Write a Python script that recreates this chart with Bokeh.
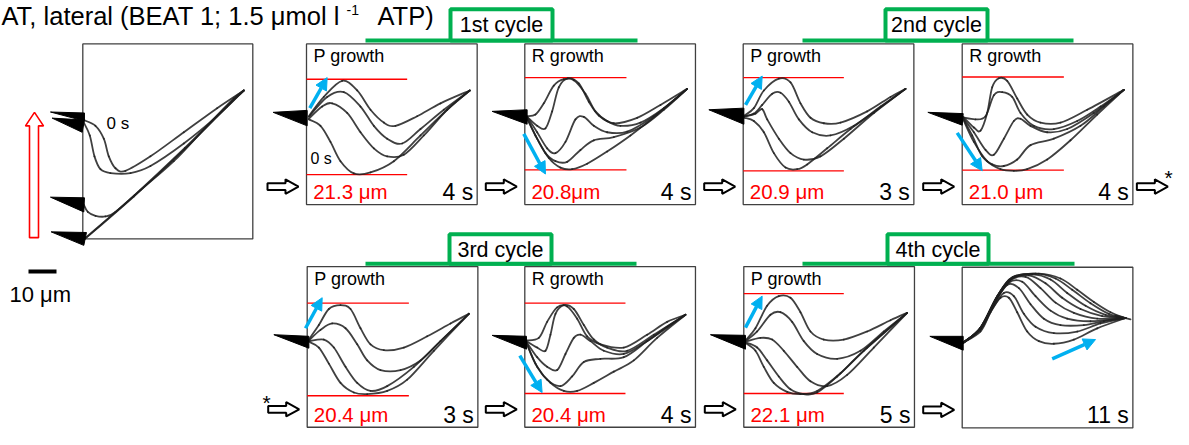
from bokeh.plotting import figure
from bokeh.models import Range1d, Arrow, NormalHead
from bokeh.core.properties import value
from bokeh.embed import file_html
from bokeh.resources import INLINE

# ---------------- data (waveforms in panel-local units, 3 units = 1 px) ----------------
TITLE_MAIN = "AT, lateral (BEAT 1; 1.5 μmol l"
TITLE_SUP = "-1"
TITLE_END = "ATP)"
CYCLE_LABELS = ["1st cycle", "2nd cycle", "3rd cycle", "4th cycle"]
PANEL_TITLES = ["P growth", "R growth", "P growth", "R growth", "P growth", "R growth", "P growth", ""]
AMPLITUDES = ["21.3 μm", "20.8μm", "20.9 μm", "21.0 μm", "20.4 μm", "20.4 μm", "22.1 μm", ""]
DURATIONS = ["4 s", "4 s", "3 s", "4 s", "3 s", "4 s", "5 s", "11 s"]
SCALE_LABEL = "10 μm"
START_LABEL = "0 s"

PANEL0_CURVES = [
    [(3, 237), (38, 255), (63, 295), (78, 350), (98, 387), (128, 395), (203, 350), (303, 275), (403, 200), (483, 145)],
    [(3, 245), (21, 285), (35, 350), (53, 390), (83, 402), (143, 402), (203, 380), (303, 310), (403, 225), (483, 145)],
    [(3, 500), (15, 523), (38, 535), (68, 537), (98, 523), (173, 455), (273, 365), (373, 255), (453, 170), (483, 145)],
    [(3, 610), (153, 475), (303, 330), (433, 195), (483, 145)],
    [(6, 606), (156, 470), (306, 324), (436, 190), (483, 145)],
]
PANEL0_HEADS = [
    [(-97, 212), (5, 215), (5, 240)],
    [(-92, 231), (5, 237), (-2, 275)],
    [(-97, 477), (5, 479), (3, 523)],
    [(-95, 585), (11, 587), (3, 627)],
]

P1_CURVES = [
    [(7, 225), (52, 165), (107, 115), (152, 145), (192, 205), (232, 245), (267, 255), (332, 225), (402, 185), (490, 145)],
    [(7, 227), (62, 165), (112, 150), (162, 195), (202, 255), (242, 295), (287, 310), (342, 265), (412, 205), (490, 145)],
    [(7, 233), (47, 195), (77, 185), (122, 215), (162, 275), (202, 325), (242, 350), (292, 345), (352, 285), (422, 205), (490, 145)],
    [(7, 235), (42, 255), (72, 305), (102, 365), (142, 403), (192, 400), (262, 365), (342, 285), (422, 205), (490, 145)],
]
R1_CURVES = [
    [(7, 227), (37, 255), (62, 263), (82, 210), (102, 135), (129, 107), (162, 123), (192, 180), (222, 223), (267, 247), (337, 230), (407, 190), (487, 140)],
    [(7, 225), (32, 220), (57, 185), (87, 130), (117, 110), (147, 113), (182, 155), (212, 210), (247, 240), (287, 255), (347, 245), (417, 200), (487, 140)],
    [(7, 227), (37, 275), (67, 325), (92, 340), (122, 305), (152, 235), (177, 227), (207, 255), (247, 275), (307, 273), (387, 225), (487, 140)],
    [(7, 230), (32, 285), (62, 340), (92, 365), (127, 367), (167, 330), (207, 300), (267, 290), (347, 260), (417, 205), (487, 140)],
    [(7, 233), (37, 295), (72, 355), (107, 385), (142, 390), (187, 373), (247, 335), (317, 285), (397, 220), (487, 140)],
]
P2_CURVES = [
    [(4, 223), (32, 200), (62, 145), (107, 108), (142, 120), (172, 185), (202, 230), (242, 247), (292, 245), (372, 210), (442, 165), (487, 140)],
    [(4, 225), (32, 217), (57, 190), (87, 155), (112, 152), (137, 180), (167, 235), (207, 275), (262, 285), (332, 255), (412, 195), (487, 140)],
    [(4, 227), (37, 217), (57, 203), (72, 235), (107, 295), (142, 340), (182, 360), (232, 350), (302, 295), (392, 215), (487, 140)],
    [(4, 230), (32, 240), (62, 275), (92, 340), (127, 385), (162, 390), (192, 375), (252, 325), (322, 265), (402, 205), (487, 140)],
]
R2_CURVES = [
    [(3, 227), (35, 260), (55, 270), (75, 215), (90, 135), (110, 107), (135, 115), (165, 170), (195, 220), (235, 245), (295, 245), (375, 205), (485, 143)],
    [(3, 229), (40, 235), (70, 225), (95, 160), (120, 150), (150, 165), (175, 215), (215, 255), (275, 265), (345, 240), (415, 195), (485, 143)],
    [(3, 231), (35, 275), (70, 330), (95, 345), (125, 295), (155, 240), (175, 233), (205, 255), (255, 275), (315, 265), (395, 215), (485, 143)],
    [(3, 233), (30, 285), (60, 350), (90, 375), (125, 380), (165, 360), (205, 315), (275, 295), (355, 255), (425, 195), (485, 143)],
    [(3, 235), (35, 305), (75, 365), (115, 390), (155, 395), (195, 390), (255, 360), (325, 300), (405, 220), (485, 143)],
]
P3_CURVES = [
    [(5, 227), (35, 182), (65, 132), (100, 120), (130, 132), (160, 192), (190, 242), (230, 260), (290, 252), (360, 217), (430, 177), (485, 147)],
    [(5, 230), (40, 197), (75, 177), (115, 192), (150, 242), (180, 292), (220, 322), (280, 322), (340, 292), (400, 232), (485, 147)],
    [(5, 232), (50, 227), (80, 252), (115, 312), (150, 362), (190, 387), (240, 372), (320, 312), (400, 232), (485, 147)],
    [(5, 234), (35, 252), (65, 302), (100, 362), (140, 392), (180, 397), (240, 387), (300, 352), (380, 262), (485, 147)],
]
R3_CURVES = [
    [(5, 232), (37, 252), (62, 262), (77, 212), (92, 147), (117, 120), (147, 132), (177, 182), (207, 227), (247, 252), (307, 262), (387, 212), (482, 150)],
    [(5, 230), (42, 222), (67, 172), (97, 127), (127, 124), (157, 162), (187, 217), (227, 242), (297, 252), (367, 212), (427, 172), (482, 150)],
    [(5, 234), (37, 282), (67, 312), (97, 322), (122, 272), (147, 222), (167, 212), (197, 232), (237, 262), (297, 272), (367, 232), (482, 150)],
    [(5, 236), (32, 302), (67, 352), (107, 372), (142, 342), (177, 297), (227, 287), (297, 282), (367, 232), (427, 187), (482, 150)],
    [(5, 238), (37, 312), (77, 362), (117, 387), (157, 387), (207, 362), (267, 327), (327, 292), (397, 222), (482, 150)],
]
P4_CURVES = [
    [(5, 230), (35, 192), (70, 122), (105, 92), (140, 97), (170, 142), (200, 202), (240, 227), (300, 227), (370, 202), (440, 167), (490, 144)],
    [(5, 232), (40, 202), (80, 150), (110, 142), (145, 172), (180, 232), (220, 272), (280, 287), (350, 262), (420, 202), (490, 144)],
    [(5, 234), (50, 222), (85, 227), (120, 262), (160, 312), (200, 357), (250, 372), (310, 337), (390, 252), (490, 144)],
    [(5, 236), (40, 252), (70, 292), (105, 342), (140, 382), (180, 397), (220, 392), (280, 342), (360, 262), (490, 144)],
    [(5, 238), (35, 262), (60, 312), (90, 362), (130, 390), (170, 397), (220, 387), (290, 332), (370, 252), (490, 144)],
]
FINAL_CURVES = [
    [(3, 235), (55, 200), (85, 140), (115, 95), (140, 95), (165, 140), (195, 200), (230, 230), (275, 238), (335, 225), (405, 190), (490, 158)],
    [(3, 235), (55, 195), (90, 130), (125, 80), (155, 90), (185, 145), (220, 185), (275, 205), (345, 200), (415, 175), (490, 158)],
    [(3, 235), (55, 190), (95, 115), (135, 55), (170, 65), (205, 115), (245, 160), (295, 180), (365, 180), (425, 168), (490, 158)],
    [(3, 235), (55, 190), (100, 105), (140, 48), (180, 45), (220, 90), (265, 135), (315, 160), (385, 168), (490, 158)],
    [(3, 235), (55, 190), (100, 100), (143, 42), (190, 30), (235, 65), (280, 110), (335, 142), (405, 160), (490, 158)],
    [(3, 235), (55, 188), (103, 95), (145, 38), (200, 25), (250, 50), (300, 95), (355, 130), (420, 152), (490, 158)],
    [(3, 235), (55, 188), (105, 90), (147, 35), (210, 22), (265, 38), (315, 80), (370, 120), (430, 148), (490, 158)],
    [(3, 235), (55, 188), (107, 88), (150, 32), (220, 20), (280, 35), (330, 70), (385, 112), (440, 145), (490, 158)],
    [(3, 235), (55, 188), (108, 86), (153, 30), (230, 20), (295, 35), (345, 70), (395, 108), (445, 140), (490, 158)],
    [(460, 150), (490, 158), (505, 162)],
]
PANEL_CURVES = [P1_CURVES, R1_CURVES, P2_CURVES, R2_CURVES, P3_CURVES, R3_CURVES, P4_CURVES, FINAL_CURVES]

HEADS = [
    [(-100, 213), (2, 207), (2, 255)],
    [(-98, 210), (7, 205), (7, 250)],
    [(-103, 205), (2, 200), (2, 250)],
    [(-103, 213), (3, 217), (0, 253)],
    [(-100, 212), (5, 217), (5, 254)],
    [(-98, 214), (5, 217), (5, 257)],
    [(-100, 212), (5, 214), (5, 257)],
    [(-97, 215), (3, 215), (3, 258)],
]
# amplitude envelope: (top, bottom, right end)
RED_BOUNDS = [(110, 407, 302), (105, 392, 305), (105, 395, 302), (103, 393, 305),
              (114, 402, 305), (114, 395, 302), (84, 395, 300), None]
BLUE_ARROWS = [(10, 200, 62, 105), (-3, 280, 62, 405), (7, 190, 57, 100), (-15, 277, 60, 395),
               (-5, 192, 45, 97), (-15, 277, 52, 392), (5, 190, 55, 92), (270, 285, 400, 225)]

# ---------------- layout ----------------
U = 1.0 / 3.0
PANEL0_ORIGIN = (82.3, 45.0)
PANEL0_SIZE = (510, 607)
PANEL_ORIGINS = [(306.0, 45.0), (524.3, 45.0), (742.7, 45.0), (961.7, 45.0),
                 (306.7, 276.0), (524.3, 276.0), (743.3, 276.0), (961.7, 276.7)]
PANEL_SIZE = (512, 500)
FONT = value("Liberation Sans")
GREEN = "#00b050"
BLUE = "#00b0f0"
RED = "#ff0000"
CURVE_COLOR = "#1e1e1e"
Y_SPAN = 445.0
H = 429
YS = H / Y_SPAN  # px per data unit vertically

p = figure(width=1173, height=H, x_range=Range1d(0, 1173), y_range=Range1d(Y_SPAN, 0),
           output_backend="svg", toolbar_location=None, min_border=0,
           x_axis_type=None, y_axis_type=None)
p.grid.visible = False
p.outline_line_color = None
p.background_fill_color = "white"


def txt(x, y, s, size, color="black", align="left"):
    # SVG text sits ~0.33 em below the requested alphabetic baseline; compensate
    yy = y - 0.33 * size / YS
    p.text(x=[x], y=[yy], text=[s], text_font=FONT, text_font_size=f"{size}px",
           text_align=align, text_baseline="alphabetic", text_color=color)


def to_global(origin, pts):
    ox, oy = origin
    return [ox + u * U for u, _ in pts], [oy + v * U for _, v in pts]


seg = {k: [] for k in ["x0", "y0", "x1", "y1", "cx0", "cy0", "cx1", "cy1"]}


def add_curve(origin, pts):
    xs, ys = to_global(origin, pts)
    n = len(xs)
    for i in range(n - 1):
        a = max(i - 1, 0)
        d = min(i + 2, n - 1)
        seg["x0"].append(xs[i]); seg["y0"].append(ys[i])
        seg["x1"].append(xs[i + 1]); seg["y1"].append(ys[i + 1])
        seg["cx0"].append(xs[i] + (xs[i + 1] - xs[a]) / 6)
        seg["cy0"].append(ys[i] + (ys[i + 1] - ys[a]) / 6)
        seg["cx1"].append(xs[i + 1] - (xs[d] - xs[i]) / 6)
        seg["cy1"].append(ys[i + 1] - (ys[d] - ys[i]) / 6)


# ---- green cycle brackets
CYCLE_GEOM = [  # (line x0, line x1, line y, box x0, box x1, box top)
    (365, 637, 41.5, 450, 552, 9),
    (802, 1073, 41.5, 885, 987, 9),
    (365, 636, 273, 449, 551, 242.5),
    (802, 1074, 273, 887, 988, 242.5),
]
for (lx0, lx1, ly, bx0, bx1, bt), lab in zip(CYCLE_GEOM, CYCLE_LABELS):
    p.segment(x0=[lx0], y0=[ly], x1=[lx1], y1=[ly], line_color=GREEN, line_width=4)
    p.quad(left=[bx0], right=[bx1], top=[bt], bottom=[ly], fill_color="white",
           line_color=GREEN, line_width=4)
    txt((bx0 + bx1) / 2, bt + 24, lab, 21.5, align="center")

# ---- title
txt(1, 25, TITLE_MAIN, 25.5)
txt(346, 15, TITLE_SUP, 14)
txt(377, 25, TITLE_END, 25.5)

# ---- panel 0
ox, oy = PANEL0_ORIGIN
p.quad(left=[ox], right=[ox + PANEL0_SIZE[0] * U], top=[oy], bottom=[oy + PANEL0_SIZE[1] * U],
       fill_color=None, line_color="#404040", line_width=1.3)
for c in PANEL0_CURVES:
    add_curve(PANEL0_ORIGIN, c)
hx, hy = [], []
for tri in PANEL0_HEADS:
    a, b = to_global(PANEL0_ORIGIN, tri)
    hx.append(a); hy.append(b)
txt(ox + 71 * U, oy + 265 * U, START_LABEL, 17)

# red hollow arrow (direction of head movement)
p.patch(x=[29, 38, 38, 43, 34, 25, 29, 29], y=[246, 246, 130, 130, 116, 130, 130, 246],
        fill_color="white", line_color=RED, line_width=1.6)
# scale bar
p.segment(x0=[28], y0=[281], x1=[56], y1=[281], line_color="black", line_width=4)
txt(9, 312, SCALE_LABEL, 22)

# ---- small panels
pw, ph = PANEL_SIZE
for k, origin in enumerate(PANEL_ORIGINS):
    ox, oy = origin
    p.quad(left=[ox], right=[ox + pw * U], top=[oy], bottom=[oy + ph * U],
           fill_color=None, line_color="#404040", line_width=1.3)
    rb = RED_BOUNDS[k]
    if rb is not None:
        top, bot, xe = rb
        p.segment(x0=[ox, ox], y0=[oy + top * U, oy + bot * U], x1=[ox + xe * U] * 2,
                  y1=[oy + top * U, oy + bot * U], line_color=RED, line_width=1.3)
    for c in PANEL_CURVES[k]:
        add_curve(origin, c)
    a, b = to_global(origin, HEADS[k])
    hx.append(a); hy.append(b)
    if PANEL_TITLES[k]:
        txt(ox + 21 * U, oy + 56 * U, PANEL_TITLES[k], 18)
    if AMPLITUDES[k]:
        txt(ox + 20 * U, oy + 480 * U, AMPLITUDES[k], 20.5, color=RED)
    txt(ox + 500 * U, oy + 484 * U, DURATIONS[k], 23, align="right")
    bx0, by0, bx1, by1 = BLUE_ARROWS[k]
    p.add_layout(Arrow(x_start=ox + bx0 * U, y_start=oy + by0 * U, x_end=ox + bx1 * U,
                       y_end=oy + by1 * U, line_color=BLUE, line_width=3.5,
                       end=NormalHead(size=12, fill_color=BLUE, line_color=BLUE, line_width=1)))

# "0 s" in first P growth panel
ox, oy = PANEL_ORIGINS[0]
txt(ox + 12 * U, oy + 373 * U, START_LABEL, 16)

# waveform curves
p.bezier(x0=seg["x0"], y0=seg["y0"], x1=seg["x1"], y1=seg["y1"], cx0=seg["cx0"],
         cy0=seg["cy0"], cx1=seg["cx1"], cy1=seg["cy1"], line_color=CURVE_COLOR,
         line_width=1.8, line_alpha=0.85, line_cap="round")
# sperm heads
p.patches(xs=hx, ys=hy, fill_color="black", line_color="black", line_width=1)

# hollow transition arrows
ARROW_SHAPE_X = [0, 18, 18, 31, 18, 18, 0]
ARROW_SHAPE_Y = [-3.5, -3.5, -7.5, 0, 7.5, 3.5, 3.5]
arrow_pos = [(PANEL_ORIGINS[i][0] - 39, PANEL_ORIGINS[i][1] + 148) for i in range(8)]
arrow_pos.append((PANEL_ORIGINS[3][0] + pw * U + 4, PANEL_ORIGINS[3][1] + 148))
p.patches(xs=[[ax + sx for sx in ARROW_SHAPE_X] for ax, ay in arrow_pos],
          ys=[[ay + sy for sy in ARROW_SHAPE_Y] for ax, ay in arrow_pos],
          fill_color="white", line_color="black", line_width=2)
# asterisks
txt(1164, 191, "*", 21)
txt(262, 424, "*", 21)

open("out.html", "w").write(file_html(p, INLINE))
